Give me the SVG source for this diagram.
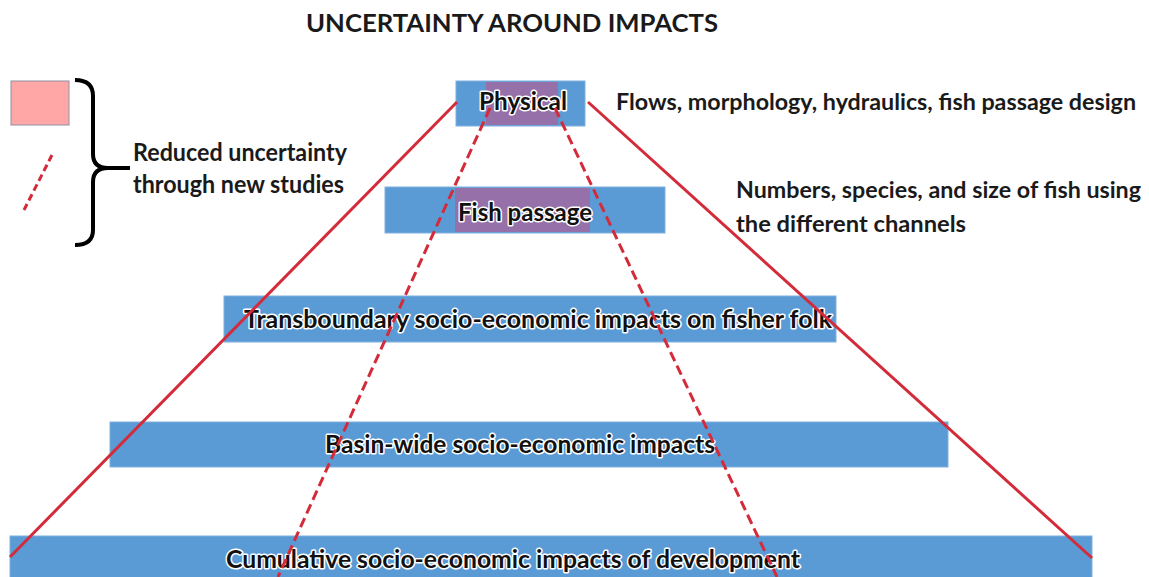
<svg xmlns="http://www.w3.org/2000/svg" width="1149" height="577" viewBox="0 0 1149 577">
<style>
.box{fill:#5B9BD5;stroke:#7FB0DE;stroke-width:1}
.hl{fill:#9670A8}
.bt{font-family:Lato,"Open Sans","Liberation Sans",sans-serif;font-weight:bold;font-size:25px;fill:#111;stroke:#fff;stroke-width:3;stroke-linejoin:round;paint-order:stroke}
.t{font-family:Lato,"Open Sans","Liberation Sans",sans-serif;font-weight:bold;font-size:24px;fill:#1a1a1a}
.n{font-size:22.5px}
.solid{stroke:#D42B3A;stroke-width:3;fill:none}
.dash{stroke:#D42B3A;stroke-width:3;fill:none;stroke-dasharray:10 5}
</style>
<rect width="1149" height="577" fill="#fff"/>
<text class="t" x="306" y="32" font-size="27" textLength="412" lengthAdjust="spacingAndGlyphs">UNCERTAINTY AROUND IMPACTS</text>

<g id="legend">
<rect x="11" y="81" width="58" height="44" fill="#FFA7A7" stroke="#9090A0" stroke-width="1"/>
<line x1="52" y1="155" x2="24" y2="210" stroke="#D42B3A" stroke-width="3" stroke-dasharray="7 4"/>
<path d="M75,80 Q93,80 93,96 L93,154 Q93,168 108,168 L130,168 M108,168 Q93,168 93,182 L93,230 Q93,245 75,245" fill="none" stroke="#000" stroke-width="4"/>
<text class="t" x="133" y="161" textLength="214" lengthAdjust="spacingAndGlyphs">Reduced uncertainty</text>
<text class="t" x="133" y="193" textLength="211" lengthAdjust="spacingAndGlyphs">through new studies</text>
</g>

<g id="cumulative">
<rect class="box" x="10" y="536" width="1082" height="45"/>
<text class="bt" x="226" y="568" textLength="574" lengthAdjust="spacingAndGlyphs">Cumulative socio-economic impacts of development</text>
</g>
<g id="basin">
<rect class="box" x="110" y="422" width="838" height="45"/>
<text class="bt" x="325" y="453" textLength="390" lengthAdjust="spacingAndGlyphs">Basin-wide socio-economic impacts</text>
</g>
<g id="transboundary">
<rect class="box" x="224" y="296" width="612" height="46"/>
<text class="bt" x="244" y="328" textLength="588" lengthAdjust="spacingAndGlyphs">Transboundary socio-economic impacts on fisher folk</text>
</g>
<g id="fish">
<rect class="box" x="385" y="187" width="280" height="46"/>
<rect class="hl" x="455" y="188" width="135" height="44"/>
<text class="bt" x="458" y="221" textLength="134" lengthAdjust="spacingAndGlyphs">Fish passage</text>
</g>
<g id="physical">
<rect class="box" x="456" y="81" width="129" height="45"/>
<rect class="hl" x="486" y="82" width="72" height="43"/>
<text class="bt" x="479" y="110" textLength="88" lengthAdjust="spacingAndGlyphs">Physical</text>
</g>

<g id="connectors">
<line class="solid" x1="457" y1="102" x2="10" y2="557"/>
<line class="solid" x1="588" y1="102" x2="1092" y2="558"/>
<line class="dash" x1="490" y1="108" x2="278" y2="577"/>
<line class="dash" x1="555" y1="108" x2="777" y2="577"/>
</g>

<g id="notes">
<text class="t n" x="616" y="110" textLength="520" lengthAdjust="spacingAndGlyphs">Flows, morphology, hydraulics, fish passage design</text>
<text class="t n" x="736" y="198" textLength="405" lengthAdjust="spacingAndGlyphs">Numbers, species, and size of fish using</text>
<text class="t n" x="736" y="232" textLength="230" lengthAdjust="spacingAndGlyphs">the different channels</text>
</g>
</svg>
